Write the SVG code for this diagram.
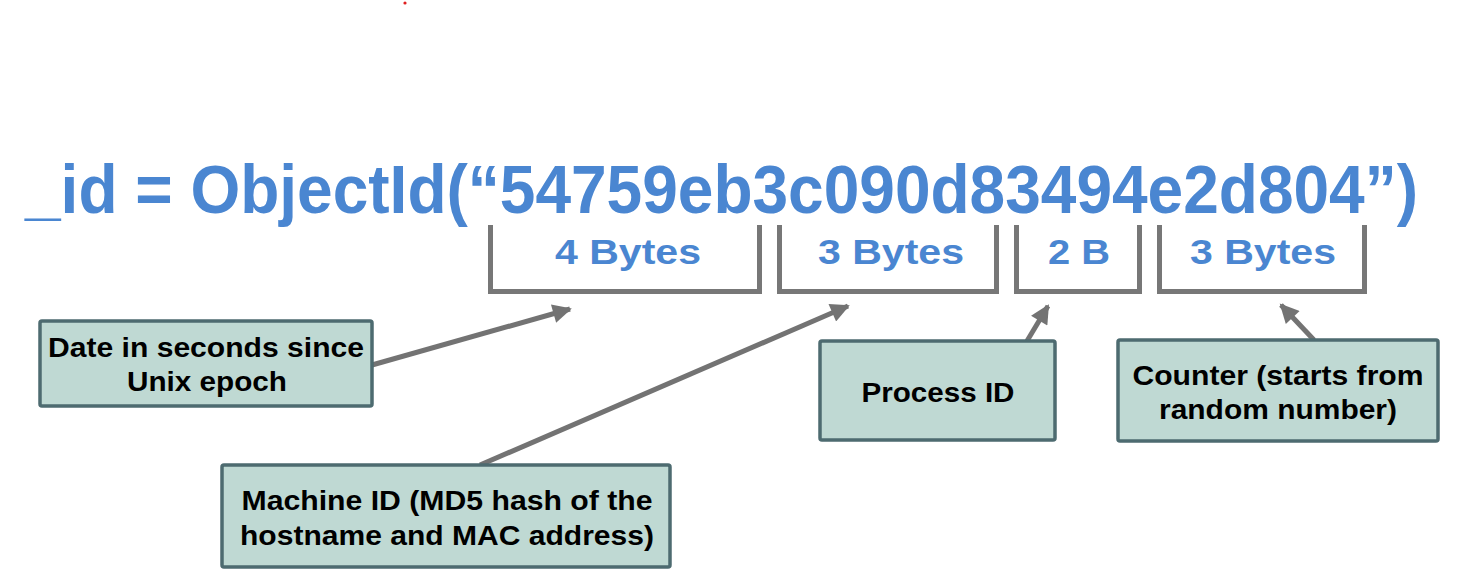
<svg xmlns="http://www.w3.org/2000/svg" width="1462" height="584" viewBox="0 0 1462 584">
<defs>
<marker id="ah" viewBox="0 0 10 10" refX="9" refY="5" markerWidth="4.6" markerHeight="3.8" orient="auto" markerUnits="strokeWidth">
<path d="M0,0 L10,5 L0,10 Z" fill="#737373"/>
</marker>
<style>
.title{font-family:"Liberation Sans",Arial,sans-serif;font-weight:bold;font-size:68px;fill:#4A86D1}
.lbl{font-family:"Liberation Sans",Arial,sans-serif;font-weight:bold;font-size:35px;fill:#4A86D1;text-anchor:middle}
.brk{fill:none;stroke:#777777;stroke-width:5}
.box{fill:#BFD9D3;stroke:#4D6B70;stroke-width:3.5;stroke-linejoin:round}
.bt{font-family:"Liberation Sans",Arial,sans-serif;font-weight:bold;font-size:27px;fill:#000;text-anchor:middle}
.con{fill:none;stroke:#737373;stroke-width:5;marker-end:url(#ah)}
</style>
</defs>
<rect width="1462" height="584" fill="#fff"/>
<circle cx="405" cy="3" r="1.6" fill="#E02020"/>
<g id="title">
<text class="title" x="25" y="213" textLength="1393" lengthAdjust="spacingAndGlyphs">_id = ObjectId(“54759eb3c090d83494e2d804”)</text>
</g>
<g id="brackets">
<g id="b4bytes"><path class="brk" d="M490.5,225 V291.5 H759.5 V225"/><text class="lbl" x="628" y="264" textLength="146" lengthAdjust="spacingAndGlyphs">4 Bytes</text></g>
<g id="b3bytes1"><path class="brk" d="M779.5,225 V291.5 H996.5 V225"/><text class="lbl" x="891" y="264" textLength="146" lengthAdjust="spacingAndGlyphs">3 Bytes</text></g>
<g id="b2b"><path class="brk" d="M1016.5,225 V291.5 H1139.5 V225"/><text class="lbl" x="1079" y="264" textLength="62" lengthAdjust="spacingAndGlyphs">2 B</text></g>
<g id="b3bytes2"><path class="brk" d="M1159.5,225 V291.5 H1364.5 V225"/><text class="lbl" x="1263" y="264" textLength="146" lengthAdjust="spacingAndGlyphs">3 Bytes</text></g>
</g>
<g id="connectors">
<line class="con" x1="372" y1="365" x2="570" y2="309"/>
<line class="con" x1="480" y1="465" x2="848" y2="306"/>
<line class="con" x1="1027" y1="341" x2="1048" y2="306"/>
<line class="con" x1="1314" y1="340" x2="1281" y2="305"/>
</g>
<g id="date">
<rect class="box" x="40" y="321" width="332" height="85" rx="2"/>
<text class="bt" x="206" y="357" textLength="316" lengthAdjust="spacingAndGlyphs">Date in seconds since</text>
<text class="bt" x="207" y="391" textLength="160" lengthAdjust="spacingAndGlyphs">Unix epoch</text>
</g>
<g id="machine">
<rect class="box" x="222" y="465" width="448" height="102" rx="2"/>
<text class="bt" x="447" y="510" textLength="411" lengthAdjust="spacingAndGlyphs">Machine ID (MD5 hash of the</text>
<text class="bt" x="447" y="545" textLength="414" lengthAdjust="spacingAndGlyphs">hostname and MAC address)</text>
</g>
<g id="process">
<rect class="box" x="820" y="341" width="235" height="99" rx="2"/>
<text class="bt" x="938" y="402" textLength="153" lengthAdjust="spacingAndGlyphs">Process ID</text>
</g>
<g id="counter">
<rect class="box" x="1118" y="340" width="320" height="101" rx="2"/>
<text class="bt" x="1278" y="385" textLength="291" lengthAdjust="spacingAndGlyphs">Counter (starts from</text>
<text class="bt" x="1278" y="419" textLength="238" lengthAdjust="spacingAndGlyphs">random number)</text>
</g>
</svg>
